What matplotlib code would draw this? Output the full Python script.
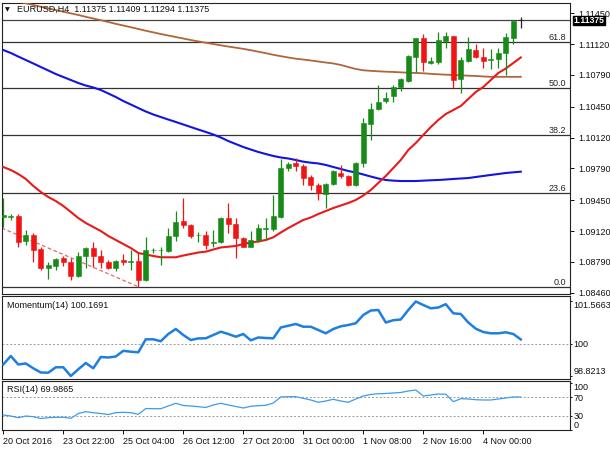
import matplotlib
matplotlib.use("Agg")
import matplotlib.pyplot as plt
import matplotlib.transforms as mtransforms
import numpy as np

plt.rcParams['font.family'] = ['Liberation Sans', 'DejaVu Sans']

# ---------------- data ----------------
opens = [1.09270, 1.09265, 1.09284, 1.09013, 1.09082, 1.08925, 1.08721, 1.08749, 1.08835, 1.08792,
         1.08642, 1.08853, 1.08942, 1.08853, 1.08792, 1.08721, 1.08810, 1.08786, 1.08799, 1.08596,
         1.08912, 1.08912, 1.08910, 1.09067, 1.09227, 1.09185, 1.09074, 1.09082, 1.08989, 1.09006,
         1.09256, 1.09195, 1.09042, 1.08952, 1.09024, 1.09139, 1.09139, 1.09274, 1.09791, 1.09845,
         1.09816, 1.09701, 1.09613, 1.09516, 1.09623, 1.09738, 1.09709, 1.09613, 1.09845, 1.10265,
         1.10422, 1.10515, 1.10565, 1.10664, 1.10725, 1.10985, 1.11182, 1.10915, 1.10925, 1.11153,
         1.11210, 1.10747, 1.10939, 1.11057, 1.10985, 1.10950, 1.10961, 1.11022, 1.11189, 1.11375]
highs = [1.09473, 1.09302, 1.09302, 1.09131, 1.09096, 1.08952, 1.08786, 1.08835, 1.08856, 1.08828,
         1.08899, 1.08952, 1.09006, 1.08917, 1.08810, 1.08810, 1.08871, 1.08917, 1.08882, 1.09059,
         1.08935, 1.08952, 1.09149, 1.09334, 1.09470, 1.09195, 1.09113, 1.09124, 1.09131, 1.09274,
         1.09417, 1.09256, 1.09059, 1.09124, 1.09195, 1.09256, 1.09505, 1.09888, 1.09862, 1.09898,
         1.09837, 1.09720, 1.09637, 1.09637, 1.09773, 1.09827, 1.09720, 1.09862, 1.10326, 1.10493,
         1.10683, 1.10611, 1.10683, 1.10754, 1.11004, 1.11189, 1.11225, 1.10985, 1.11246, 1.11246,
         1.11210, 1.10985, 1.11199, 1.11118, 1.11075, 1.11068, 1.11075, 1.11236, 1.11378, 1.11409]
lows = [1.09163, 1.09238, 1.08952, 1.08970, 1.08792, 1.08703, 1.08603, 1.08703, 1.08749, 1.08596,
        1.08631, 1.08721, 1.08738, 1.08728, 1.08714, 1.08692, 1.08757, 1.08703, 1.08524, 1.08585,
        1.08882, 1.08757, 1.08899, 1.09017, 1.09149, 1.09048, 1.09006, 1.08925, 1.08952, 1.08995,
        1.09096, 1.08828, 1.08946, 1.08946, 1.09006, 1.09024, 1.09124, 1.09256, 1.09765, 1.09765,
        1.09613, 1.09559, 1.09452, 1.09363, 1.09613, 1.09684, 1.09602, 1.09602, 1.09808, 1.10094,
        1.10415, 1.10487, 1.10504, 1.10618, 1.10711, 1.10825, 1.10832, 1.10904, 1.10904, 1.11075,
        1.10647, 1.10594, 1.10925, 1.10975, 1.10868, 1.10854, 1.10868, 1.10790, 1.11118, 1.11294]
closes = [1.09290, 1.09281, 1.09006, 1.09082, 1.08917, 1.08721, 1.08757, 1.08821, 1.08786, 1.08642,
          1.08856, 1.08942, 1.08853, 1.08786, 1.08728, 1.08799, 1.08786, 1.08799, 1.08596, 1.08917,
          1.08922, 1.08922, 1.09067, 1.09220, 1.09185, 1.09067, 1.09082, 1.08970, 1.09006, 1.09263,
          1.09195, 1.09042, 1.08952, 1.09024, 1.09149, 1.09156, 1.09281, 1.09791, 1.09837, 1.09816,
          1.09684, 1.09613, 1.09524, 1.09623, 1.09765, 1.09709, 1.09613, 1.09851, 1.10273, 1.10422,
          1.10504, 1.10547, 1.10664, 1.10747, 1.10996, 1.11189, 1.10925, 1.10939, 1.11164, 1.11210,
          1.10736, 1.10950, 1.11068, 1.10985, 1.10939, 1.10961, 1.11028, 1.11199, 1.11372, 1.11375]

ma_red = [1.09805, 1.09773, 1.09730, 1.09677, 1.09602, 1.09538, 1.09484, 1.09441, 1.09388, 1.09324,
          1.09259, 1.09206, 1.09163, 1.09120, 1.09067, 1.09024, 1.08981, 1.08938, 1.08885, 1.08869,
          1.08853, 1.08839, 1.08839, 1.08839, 1.08858, 1.08874, 1.08890, 1.08899, 1.08922, 1.08944,
          1.08952, 1.08960, 1.08981, 1.08997, 1.09008, 1.09024, 1.09053, 1.09104, 1.09152, 1.09195,
          1.09238, 1.09265, 1.09302, 1.09334, 1.09366, 1.09393, 1.09420, 1.09452, 1.09500, 1.09559,
          1.09634, 1.09709, 1.09794, 1.09880, 1.09987, 1.10062, 1.10148, 1.10233, 1.10308, 1.10372,
          1.10415, 1.10458, 1.10533, 1.10608, 1.10661, 1.10736, 1.10811, 1.10859, 1.10918, 1.10977]
ma_blue = [1.11057, 1.11025, 1.10987, 1.10950, 1.10913, 1.10875, 1.10838, 1.10800, 1.10768, 1.10736,
           1.10704, 1.10677, 1.10656, 1.10629, 1.10592, 1.10554, 1.10511, 1.10474, 1.10436, 1.10399,
           1.10367, 1.10340, 1.10313, 1.10287, 1.10260, 1.10233, 1.10206, 1.10180, 1.10153, 1.10121,
           1.10083, 1.10051, 1.10019, 1.09992, 1.09966, 1.09944, 1.09923, 1.09907, 1.09896, 1.09880,
           1.09862, 1.09851, 1.09843, 1.09827, 1.09805, 1.09784, 1.09762, 1.09746, 1.09725, 1.09703,
           1.09682, 1.09666, 1.09659, 1.09655, 1.09655, 1.09655, 1.09659, 1.09663, 1.09666, 1.09671,
           1.09677, 1.09682, 1.09687, 1.09698, 1.09709, 1.09720, 1.09730, 1.09741, 1.09748, 1.09755]
ma_brown = [1.11613, 1.11592, 1.11576, 1.11557, 1.11539, 1.11520, 1.11502, 1.11485, 1.11467, 1.11449,
            1.11432, 1.11412, 1.11394, 1.11376, 1.11357, 1.11337, 1.11319, 1.11301, 1.11282, 1.11263,
            1.11246, 1.11228, 1.11212, 1.11196, 1.11180, 1.11164, 1.11149, 1.11135, 1.11121, 1.11107,
            1.11094, 1.11082, 1.11069, 1.11055, 1.11039, 1.11023, 1.11006, 1.10991, 1.10977, 1.10964,
            1.10955, 1.10945, 1.10934, 1.10923, 1.10913, 1.10897, 1.10875, 1.10854, 1.10840, 1.10834,
            1.10829, 1.10825, 1.10822, 1.10818, 1.10814, 1.10811, 1.10808, 1.10802, 1.10797, 1.10793,
            1.10790, 1.10786, 1.10782, 1.10779, 1.10774, 1.10770, 1.10770, 1.10770, 1.10770, 1.10770]

momentum = [99.245, 99.558, 99.245, 99.282, 99.105, 98.950, 98.943, 99.142, 99.142, 98.8213,
            99.068, 99.300, 99.105, 99.521, 99.503, 99.539, 99.749, 99.716, 99.694, 100.173,
            100.173, 100.103, 100.368, 100.553, 100.332, 100.147, 100.206, 100.210, 100.332, 100.453,
            100.368, 100.269, 100.368, 100.136, 100.240, 100.221, 100.210, 100.608, 100.674, 100.737,
            100.637, 100.637, 100.516, 100.394, 100.553, 100.652, 100.700, 100.766, 101.069, 101.234,
            101.253, 100.792, 100.877, 100.903, 101.253, 101.5663, 101.437, 101.315, 101.345, 101.467,
            101.131, 101.105, 100.792, 100.564, 100.442, 100.394, 100.394, 100.431, 100.368, 100.1691]
rsi = [31.8, 29.7, 26.1, 29.7, 28.2, 24.4, 26.1, 27.0, 27.0, 24.8,
       35.0, 38.9, 36.7, 35.0, 32.9, 36.7, 37.6, 36.7, 33.3, 45.6,
       45.2, 45.2, 51.0, 56.7, 52.0, 51.0, 49.5, 47.8, 53.1, 56.7,
       53.1, 49.9, 46.7, 50.3, 51.6, 52.4, 57.3, 70.1, 70.7, 70.7,
       67.3, 63.7, 58.8, 61.6, 65.2, 61.6, 58.8, 65.8, 72.2, 75.4,
       76.9, 77.5, 78.6, 79.6, 82.8, 84.9, 72.2, 74.3, 76.4, 76.0,
       60.1, 66.5, 65.8, 64.3, 63.7, 63.7, 65.8, 67.9, 70.1, 69.9865]

date_labels = ['20 Oct 2016', '23 Oct 22:00', '25 Oct 04:00', '26 Oct 12:00', '27 Oct 20:00',
               '31 Oct 00:00', '1 Nov 08:00', '2 Nov 16:00', '4 Nov 00:00']
date_label_bars = [0, 8, 16, 24, 32, 40, 48, 56, 64]
price_ticks = [1.11450, 1.11120, 1.10790, 1.10450, 1.10120, 1.09790, 1.09450, 1.09120, 1.08790, 1.08460]
fib_ratios = [0.0, 23.6, 38.2, 50.0, 61.8]
fib_low = 1.08524
fib_high = 1.12769
bid_price = 1.11375
trend_bars = [-0.2, 18]
trend_prices = [1.09152, 1.08524]
mom_ticks = [98.8213, 100, 101.5663]
mom_tick_labels = ['98.8213', '100', '101.5663']
rsi_ticks = [0, 30, 70, 100]
title = "EURUSD,H4  1.11375 1.11409 1.11294 1.11375"

# ---------------- figure ----------------
W, H = 610, 450
fig = plt.figure(figsize=(W / 100, H / 100), dpi=100)
fig.patch.set_facecolor('white')

def box(top, bottom):
    return [2 / W, 1 - bottom / H, 568 / W, (bottom - top) / H]

ax = fig.add_axes(box(3, 294))
axm = fig.add_axes(box(296, 379))
axr = fig.add_axes(box(381, 430))

n = len(closes)
x = np.arange(n)
xlim = (-0.17, 75.56)
FS = 6.5

GREEN = '#178a17'
RED = '#f01414'

for a in (ax, axm, axr):
    a.set_xlim(*xlim)
    for s in a.spines.values():
        s.set_color('#222222')
        s.set_linewidth(0.8)
    a.yaxis.tick_right()
    a.set_facecolor('white')

ax.tick_params(axis='y', direction='out', length=3, width=0.7, pad=3,
               labelsize=FS, colors='#111111')
for a in (axm, axr):
    a.tick_params(axis='y', direction='out', length=1.5, width=0.7, pad=1,
                  labelsize=FS, colors='#111111')

# ---- main chart ----
ax.set_ylim(1.08446, 1.11560)
blend = mtransforms.blended_transform_factory(ax.transAxes, ax.transData)

for r in fib_ratios:
    lvl = fib_low + (fib_high - fib_low) * r / 100.0
    ax.axhline(lvl, color='#333333', lw=0.9, zorder=1)
    ax.text(0.993, lvl, f"{r:.1f}", transform=blend,
            ha='right', va='bottom', fontsize=FS, color='#222222')

ax.axhline(bid_price, color='#444444', lw=0.9, zorder=1)
ax.plot(trend_bars, trend_prices, color='#e06a6a', lw=0.9, ls=(0, (3, 2)), zorder=2)

ax.plot(x, ma_brown, color='#b0653a', lw=1.3, zorder=3)
ax.plot(x, ma_blue, color='#1414e0', lw=1.5, zorder=3)
ax.plot(x, ma_red, color='#e81a1a', lw=1.5, zorder=3)

o = np.array(opens); c = np.array(closes); h = np.array(highs); l = np.array(lows)
cols = [GREEN if cc > oo else (RED if cc < oo else '#222222') for oo, cc in zip(o, c)]
ax.vlines(x, l, h, colors=cols, lw=0.9, zorder=4)
bottoms = np.minimum(o, c)
heights = np.maximum(np.abs(c - o), 0.00003)
ax.bar(x, heights, bottom=bottoms, width=0.66, color=cols, edgecolor=cols, lw=0.4, zorder=5)

ax.set_yticks(price_ticks)
ax.set_yticklabels([f"{p:.5f}" for p in price_ticks])
ax.set_xticks([])

ax.text(1.006, bid_price, f"{bid_price:.5f}", transform=blend,
        ha='left', va='center', fontsize=6.2, color='white', fontweight='bold', zorder=10,
        bbox=dict(boxstyle='square,pad=0.03', facecolor='black', edgecolor='black'),
        clip_on=False)

ax.text(0.0055, 0.977, "\u25bc", transform=ax.transAxes, fontsize=4.5, ha='left', va='center',
        color='#111111', family=['DejaVu Sans'])
ax.text(0.0265, 0.977, title, transform=ax.transAxes, fontsize=FS, ha='left', va='center',
        color='#111111')

# ---- momentum ----
axm.set_ylim(98.710, 101.769)
axm.axhline(100, color='#9a9a9a', lw=0.7, ls=(0, (2, 2)), zorder=1)
axm.plot(x, momentum, color='#1e7fe0', lw=1.8, zorder=3)
axm.set_yticks(mom_ticks)
axm.set_yticklabels(mom_tick_labels)
labs = axm.get_yticklabels()
labs[0].set_va('bottom')
labs[2].set_va('top')
axm.set_xticks([])
axm.text(0.009, 0.89, f"Momentum(14) {momentum[-1]:.4f}", transform=axm.transAxes,
         fontsize=FS, ha='left', va='center', color='#111111')

# ---- RSI ----
axr.set_ylim(0, 104)
for lv in (30, 70):
    axr.axhline(lv, color='#9a9a9a', lw=0.7, ls=(0, (2, 2)), zorder=1)
axr.plot(x, rsi, color='#3d9be8', lw=0.9, zorder=3)
axr.set_yticks(rsi_ticks)
axr.set_yticklabels([str(v) for v in rsi_ticks])
rl = axr.get_yticklabels()
rl[0].set_va('bottom')
rl[3].set_va('top')
axr.text(0.009, 0.83, f"RSI(14) {rsi[-1]:.4f}", transform=axr.transAxes,
         fontsize=FS, ha='left', va='center', color='#111111')

axr.set_xticks(date_label_bars)
axr.set_xticklabels(date_labels, ha='left')
axr.tick_params(axis='x', direction='out', length=3, width=0.7, pad=2,
                labelsize=FS, colors='#111111')

fig.savefig('out.png', dpi=100, facecolor='white')
